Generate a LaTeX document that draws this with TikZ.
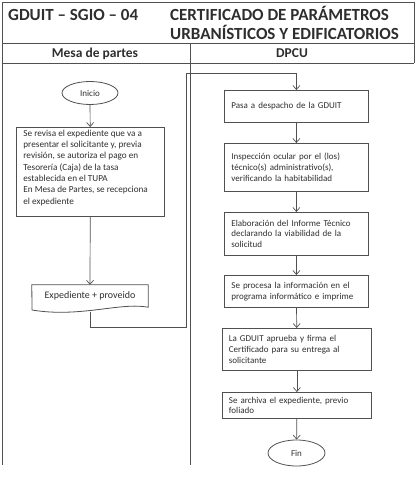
\documentclass[tikz,border=0pt]{standalone}
\usepackage{fontspec}
\setmainfont{Carlito}
\usetikzlibrary{arrows.meta,shapes.geometric}
\definecolor{ln}{HTML}{505050}
\definecolor{tx}{HTML}{2E2E2E}
\begin{document}
\begin{tikzpicture}[x=1pt,y=-1pt,
  frame/.style={draw=ln,line width=0.9pt},
  flow/.style={draw=ln,line width=0.7pt,-{Straight Barb[length=4pt,width=7pt]}},
  hdr/.style={font=\fontsize{17}{20}\bfseries\selectfont,text=tx,inner sep=0pt},
  sub/.style={font=\fontsize{13.5}{16}\bfseries\selectfont,text=tx,inner sep=0pt},
  txt/.style={font=\fontsize{9}{10.8}\selectfont,text=tx},
  stepbox/.style={draw=ln,line width=0.8pt,txt,align=left,anchor=north west,inner xsep=7pt,inner ysep=2pt},
  oval/.style={draw=ln,line width=0.8pt,ellipse,txt,inner sep=0pt}]
\useasboundingbox (0,0) rectangle (415,487);
% frame
\draw[frame] (2,465) -- (2,2) -- (414,2) -- (414,63);
\draw[frame] (2,43) -- (414,43);
\draw[frame] (2,63) -- (414,63);
\draw[frame] (190,43) -- (190,465);
% header texts
\node[hdr,anchor=base west] (code) at (8,21) {GDUIT – SGIO – 04};
\node[hdr,anchor=base west] (t1) at (170,21) {CERTIFICADO DE PARÁMETROS};
\node[hdr,anchor=base west] (t2) at (170,40) {URBANÍSTICOS Y EDIFICATORIOS};
\node[sub,anchor=base] (mp) at (95,57) {Mesa de partes};
\node[sub,anchor=base] (dp) at (292,57) {DPCU};
% left column
\node[oval,minimum width=56pt,minimum height=23pt] (ini) at (90,93) {Inicio};
\node[draw=ln,line width=0.8pt,txt,font=\fontsize{9.2}{11.3}\selectfont,anchor=north west,inner xsep=7pt,inner ysep=2.5pt] (b1) at (16,127)
  {\parbox[c][84pt][t]{134pt}{\raggedright Se revisa el expediente que va a\\presentar el solicitante y, previa\\revisión, se autoriza el pago en\\Tesorería (Caja) de la tasa\\establecida en el TUPA\\En Mesa de Partes, se recepciona\\el expediente}};
\node[txt,font=\fontsize{10}{12}\selectfont,minimum width=116pt,minimum height=22pt,inner sep=0pt] (exp) at (90,296) {Expediente + proveido};
\draw[frame,line width=0.8pt] (exp.north west) -- (exp.north east) -- (exp.south east)
  .. controls (120,302) and (80,318) .. (32,310) -- cycle;
\coordinate (expb) at (90,311.5);
\coordinate (k1) at (186,327);
\coordinate (k2) at (186,73);
% right column
\node[stepbox,text width=130pt,minimum height=32pt] (pasa) at (224,90) {Pasa a despacho de la GDUIT};
\node[stepbox,text width=130pt,minimum height=48pt] (insp) at (224,143) {Inspección ocular por el (los)\\técnico(s) administrativo(s),\\verificando la habitabilidad};
\node[stepbox,text width=130pt,minimum height=43pt] (elab) at (224,212) {Elaboración del Informe Técnico\\declarando la viabilidad de la\\solicitud};
\node[stepbox,text width=130pt,minimum height=32pt] (proc) at (224,275) {Se procesa la información en el\\programa informático e imprime};
\node[stepbox,text width=136pt,inner xsep=6.5pt,minimum height=42pt] (apr) at (222,328) {La GDUIT aprueba y firma el\\Certificado para su entrega al\\solicitante};
\node[stepbox,text width=136pt,inner xsep=6.5pt,minimum height=26pt] (arch) at (222,392) {Se archiva el expediente, previo\\foliado};
\node[oval,minimum width=57pt,minimum height=26pt] (fin) at (296.5,453) {Fin};
% connectors
\draw[flow] (ini) -- (b1);
\draw[flow] (b1) -- (exp.north);
\draw[flow] (expb) |- (k1) -- (k2) -| (pasa.north);
\draw[flow] (pasa) -- (insp);
\draw[flow] (insp) -- (elab);
\draw[flow] (elab) -- (proc);
\draw[flow] (proc) -- (apr);
\draw[flow] (apr) -- (arch);
\draw[flow] (arch) -- (fin);
\end{tikzpicture}
\end{document}
